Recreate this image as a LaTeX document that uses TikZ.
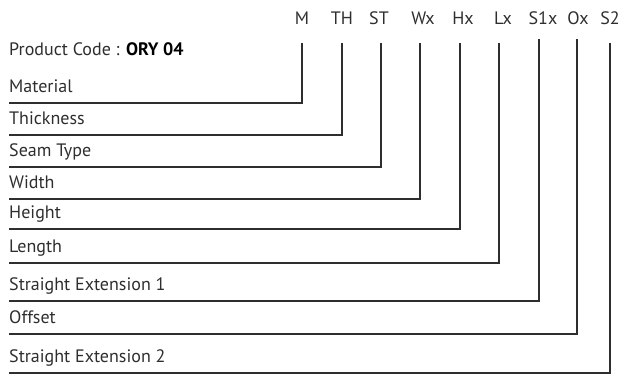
\documentclass[tikz,border=0pt]{standalone}
\usepackage{fontspec}
\setmainfont{PT Sans}
\begin{document}
\begin{tikzpicture}[x=1pt,y=-1pt]
			\definecolor{ink}{HTML}{2E2E2E}
			\tikzset{
				lbl/.style={inner sep=0, anchor=base west, text=ink, font=\fontsize{18}{21}\selectfont},
				code/.style={inner sep=0, anchor=base, text=ink, font=\fontsize{18}{21}\selectfont},
				conn/.style={draw=ink, line width=1.5pt},
			}
			\useasboundingbox (0,0) rectangle (622,374);
			\node[lbl] (title) at (9,56) {Product Code : \textbf{\color{black}ORY 04}};
			% line y / line x / top y / code x / code / label
			\foreach \i/\ly/\lx/\ty/\cx/\cc/\lab in {
					m/103/302/43/302/M/Material,
					th/135/342/43/342/TH/Thickness,
					st/167/381/43/379/ST/Seam Type,
					wx/199/420/43/423/Wx/Width,
					hx/229/460/43/463/Hx/Height,
					lx/263/499/43/503/Lx/Length,
					sa/301/539/39/543/S1x/Straight Extension 1,
					ox/334/577/39/578/Ox/Offset,
					sb/373/610/43/610/S2/Straight Extension 2%
				} {
					\node[code] (c-\i) at (\cx,25) {\cc};
					\node[lbl] (l-\i) at (9,\ly-10) {\lab};
					\coordinate (t-\i) at (\lx,\ty);
					\coordinate (e-\i) at (9,\ly);
					\draw[conn] (t-\i) |- (e-\i);
				}
		\end{tikzpicture}
\end{document}
